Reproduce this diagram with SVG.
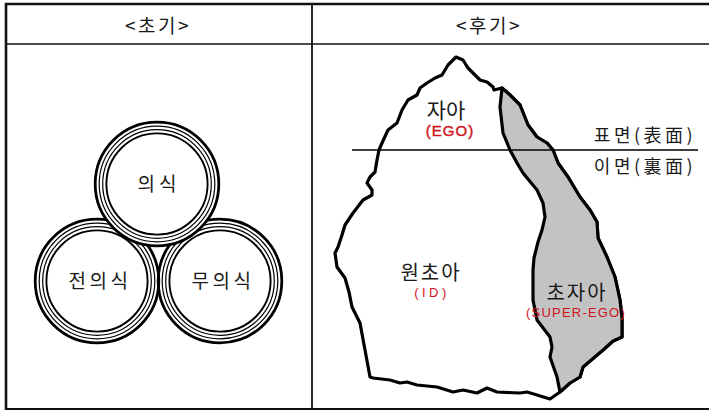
<svg xmlns="http://www.w3.org/2000/svg" width="709" height="411" viewBox="0 0 709 411">
<style>
.k{font-family:"Noto Sans CJK KR","Noto Sans",sans-serif;fill:#1a1a1a;text-anchor:middle}
.r{font-family:"Liberation Sans","Noto Sans",sans-serif;fill:#d0121b;text-anchor:middle}
.frame{stroke:#111;fill:none}
.o{fill:none;stroke:#000;stroke-width:2.8}
.t{fill:none;stroke:#000;stroke-width:1.2}
.m{fill:none;stroke:#000;stroke-width:1.9}
.ice{stroke:#000;stroke-width:3.2;stroke-linejoin:round;stroke-linecap:round}
</style>
<defs>
<g id="rings">
<circle r="61.8" class="o"/>
<circle r="57.8" class="t"/>
<circle r="54.3" class="t"/>
<circle r="50.6" class="m"/>
</g>
</defs>
<rect width="709" height="411" fill="#fff"/>
<g id="table">
<line x1="5" y1="4" x2="709" y2="4" class="frame" stroke-width="2.6"/>
<line x1="6" y1="3" x2="6" y2="410" class="frame" stroke-width="2.6"/>
<line x1="6" y1="44" x2="709" y2="44" class="frame" stroke-width="1.6"/>
<line x1="312" y1="4" x2="312" y2="409" class="frame" stroke-width="1.8"/>
<line x1="5" y1="409" x2="709" y2="409" class="frame" stroke-width="2"/>
<text class="k" x="158" y="33" font-size="19" letter-spacing="2.5">&lt;초기&gt;</text>
<text class="k" x="489" y="33" font-size="19" letter-spacing="2.5">&lt;후기&gt;</text>
</g>
<g id="early">
<g id="preconscious"><use href="#rings" x="97" y="281"/></g>
<g id="unconscious"><use href="#rings" x="220" y="281"/></g>
<g id="conscious"><circle cx="157" cy="184" r="61.8" fill="#fff"/><use href="#rings" x="157" y="184"/></g>
<text class="k" x="159" y="191" font-size="19" letter-spacing="4">의식</text>
<text class="k" x="100" y="288" font-size="19" letter-spacing="3.5">전의식</text>
<text class="k" x="223" y="288" font-size="19" letter-spacing="3.5">무의식</text>
</g>
<g id="late">
<g id="iceberg">
<path class="ice" fill="#fff" d="M456,57 L463,60 L468,68 L475,75 L480,80 L487,82 L493,87 L494,90 L502,88 L510,95 L520,105 L528,125 L537,137 L547,143 L553,150 L558,163 L568,177 L580,197 L590,210 L597,222 L598,238 L607,257 L615,277 L620,300 L622,318 L622,337 L613,341 L603,350 L583,367 L580,377 L570,383 L560,392 L550,399 L537,395 L527,392 L520,393 L497,392 L487,388 L477,393 L463,390 L453,392 L437,387 L417,385 L407,382 L400,383 L390,380 L373,378 L370,377 L360,323 L352,307 L349,292 L345,278 L337,267 L335,253 L338,247 L342,235 L345,225 L353,213 L363,200 L372,195 L372,190 L367,183 L370,177 L375,172 L377,160 L379,150 L382,143 L388,130 L397,123 L402,110 L408,100 L417,95 L420,88 L427,83 L435,78 L442,75 L448,65 Z"/>
</g>
<g id="superego">
<path class="ice" fill="#c3c3c3" d="M502,88 L500,107 L503,133 L510,150 L517,163 L523,173 L537,190 L543,203 L545,217 L542,230 L538,242 L534,258 L533,270 L533,300 L537,320 L550,337 L552,347 L550,357 L557,377 L560,392 L570,383 L580,377 L583,367 L603,350 L613,341 L622,337 L622,318 L620,300 L615,277 L607,257 L598,238 L597,222 L590,210 L580,197 L568,177 L558,163 L553,150 L547,143 L537,137 L528,125 L520,105 L510,95 Z"/>
</g>
<g id="surface">
<line x1="352" y1="150" x2="698" y2="150" stroke="#000" stroke-width="1.6"/>
</g>
<text class="k" x="446" y="118" font-size="21">자아</text>
<text class="r" x="450" y="136" font-size="15" letter-spacing="1" stroke="#d0121b" stroke-width="0.4">(EGO)</text>
<text class="k" x="645" y="142" font-size="18" letter-spacing="3.5">표면(表面)</text>
<text class="k" x="645" y="173" font-size="18" letter-spacing="3.5">이면(裏面)</text>
<text class="k" x="431" y="280" font-size="20" letter-spacing="2">원초아</text>
<text class="r" x="432" y="297" font-size="13" letter-spacing="3.5">(ID)</text>
<text class="k" x="577" y="300" font-size="20" letter-spacing="2">초자아</text>
<text class="r" x="576" y="317" font-size="13" letter-spacing="1.2">(SUPER-EGO)</text>
</g>
</svg>
